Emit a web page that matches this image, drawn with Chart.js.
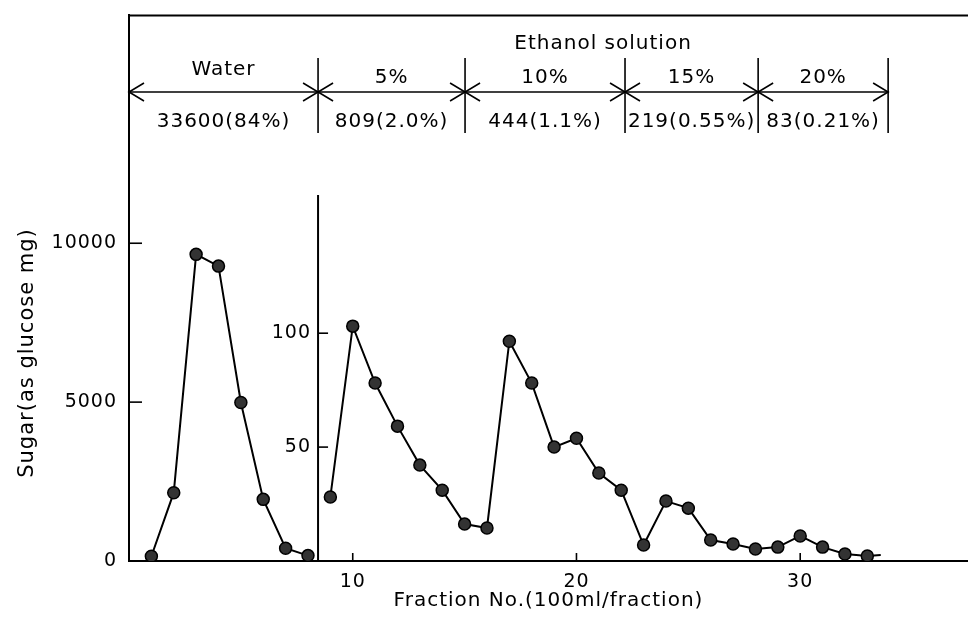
<!DOCTYPE html>
<html><head><meta charset="utf-8">
<script src="https://cdn.jsdelivr.net/npm/chart.js@4.4.1/dist/chart.umd.min.js"></script>
<style>html,body{margin:0;padding:0;background:#fff;}#wrap{width:968px;height:620px;}</style>
</head><body><div id="wrap"><canvas id="c" width="968" height="620"></canvas></div>
<script>
// ---- data ----
const waterFractions = [1, 2, 3, 4, 5, 6, 7, 8];
const waterSugar = [150, 2150, 9650, 9280, 4990, 1940, 400, 170];
const ethanolFractions = [9, 10, 11, 12, 13, 14, 15, 16, 17, 18, 19, 20, 21, 22, 23, 24, 25, 26, 27, 28, 29, 30, 31, 32, 33, 33.6];
const ethanolSugar = [28.1, 103.1, 78.1, 59.2, 42.1, 31.1, 16.2, 14.5, 96.5, 78.1, 50, 53.9, 38.6, 31.1, 7, 26.3, 23.2, 9.2, 7.5, 5.3, 6.1, 11, 6.1, 3.1, 2.2, 2.6];
const leftTicks = [0, 5000, 10000];
const innerTicks = [50, 100];
const xTicks = [10, 20, 30];
const stepBounds = [0, 8.45, 15.02, 22.17, 28.12, 33.93];
const stepNames = ['Water', '5%', '10%', '15%', '20%'];
const stepAmounts = ['33600(84%)', '809(2.0%)', '444(1.1%)', '219(0.55%)', '83(0.21%)'];
const ethanolHeader = 'Ethanol solution';
const yTitle = 'Sugar(as glucose mg)';
const xTitle = 'Fraction No.(100ml/fraction)';

const FONT = "'DejaVu Sans', sans-serif";

function line(ctx, x1, y1, x2, y2) { ctx.beginPath(); ctx.moveTo(x1, y1); ctx.lineTo(x2, y2); ctx.stroke(); }

const decor = {
  id: 'decor',
  beforeDraw(chart) { chart.ctx.letterSpacing = '1px'; },
  afterDraw(chart) {
    const {ctx, chartArea: ca, scales} = chart;
    const x = scales.x, yL = scales.yL, yR = scales.yR;
    ctx.save();
    ctx.letterSpacing = '1px';
    ctx.strokeStyle = '#000'; ctx.fillStyle = '#000';
    ctx.lineCap = 'butt';
    // top frame
    ctx.lineWidth = 2;
    line(ctx, ca.left, ca.top, ca.right, ca.top);
    // inner axis
    const ax = x.getPixelForValue(stepBounds[1]);
    line(ctx, ax, 195, ax, yR.getPixelForValue(0));
    // inward ticks
    ctx.lineWidth = 1.6;
    yL.ticks.forEach(t => { if (!t.value) return; const py = yL.getPixelForValue(t.value); line(ctx, ca.left, py, ca.left + 13, py); });
    yR.ticks.forEach(t => { const py = yR.getPixelForValue(t.value); line(ctx, ax, py, ax + 10, py); });
    x.ticks.forEach(t => { const px = x.getPixelForValue(t.value); line(ctx, px, ca.bottom, px, ca.bottom - 8); });
    // header brackets
    const yA = 92;
    const bx = stepBounds.map(v => x.getPixelForValue(v));
    ctx.lineWidth = 1.6;
    line(ctx, bx[0], yA, bx[bx.length - 1], yA);
    for (let i = 1; i < bx.length; i++) line(ctx, bx[i], 58, bx[i], 133);
    for (let i = 0; i < bx.length - 1; i++) {
      ctx.beginPath(); ctx.moveTo(bx[i] + 15, yA - 9); ctx.lineTo(bx[i], yA); ctx.lineTo(bx[i] + 15, yA + 9); ctx.stroke();
      ctx.beginPath(); ctx.moveTo(bx[i + 1] - 15, yA - 9); ctx.lineTo(bx[i + 1], yA); ctx.lineTo(bx[i + 1] - 15, yA + 9); ctx.stroke();
    }
    ctx.font = '20px ' + FONT;
    ctx.textAlign = 'center'; ctx.textBaseline = 'middle';
    for (let i = 0; i < stepNames.length; i++) {
      const cx = (bx[i] + bx[i + 1]) / 2;
      ctx.fillText(stepNames[i], cx, i === 0 ? 70 : 78);
      ctx.fillText(stepAmounts[i], cx, 122);
    }
    ctx.fillText(ethanolHeader, (bx[1] + bx[bx.length - 1]) / 2, 44);
    // y title
    ctx.font = '21px ' + FONT;
    ctx.translate(28, 353);
    ctx.rotate(-Math.PI / 2);
    ctx.fillText(yTitle, 0, 0);
    ctx.restore();
  }
};

const pt = {
  pointRadius: (c) => (c.dataset.data.length - 1 === c.dataIndex && c.datasetIndex === 1) ? 0 : 6,
  pointBackgroundColor: '#333', pointBorderColor: '#000', pointBorderWidth: 1.5,
  borderColor: '#000', borderWidth: 2, tension: 0, fill: false
};

new Chart(document.getElementById('c'), {
  type: 'line',
  data: {
    datasets: [
      Object.assign({ label: 'Water', yAxisID: 'yL', data: waterFractions.map((f, i) => ({x: f, y: waterSugar[i]})) }, pt),
      Object.assign({ label: 'Ethanol', yAxisID: 'yR', data: ethanolFractions.map((f, i) => ({x: f, y: ethanolSugar[i]})) }, pt)
    ]
  },
  options: {
    responsive: false, animation: false, devicePixelRatio: 1,
    layout: { autoPadding: false, padding: { top: 15, left: 0, right: 0, bottom: 0 } },
    plugins: { legend: { display: false }, tooltip: { enabled: false } },
    scales: {
      x: {
        type: 'linear', position: 'bottom', min: 0, max: 37.5,
        afterBuildTicks: s => { s.ticks = xTicks.map(v => ({value: v})); },
        afterFit: s => { s.height = 59; s.paddingLeft = 0; s.paddingRight = 0; },
        grid: { display: false },
        border: { display: true, color: '#000', width: 2 },
        ticks: { color: '#000', font: { family: FONT, size: 19 }, padding: 2, maxRotation: 0, autoSkip: false, callback: v => String(v) },
        title: { display: true, text: xTitle, color: '#000', font: { family: FONT, size: 20 }, padding: { top: 0, bottom: 7 } }
      },
      yL: {
        type: 'linear', position: 'left', min: 0, max: 17170,
        afterBuildTicks: s => { s.ticks = leftTicks.map(v => ({value: v})); },
        afterFit: s => { s.width = 129; },
        grid: { display: false },
        border: { display: true, color: '#000', width: 2 },
        ticks: { color: '#000', font: { family: FONT, size: 19 }, padding: 4, autoSkip: false, callback: v => String(v) }
      },
      yR: {
        type: 'linear', position: { x: stepBounds[1] }, min: 0, max: 239.5,
        afterBuildTicks: s => { s.ticks = innerTicks.map(v => ({value: v})); },
        grid: { display: false },
        border: { display: false },
        ticks: { color: '#000', font: { family: FONT, size: 19 }, autoSkip: false, callback: v => String(v) + ' ' }
      }
    }
  },
  plugins: [decor]
});
</script>
</body></html>
